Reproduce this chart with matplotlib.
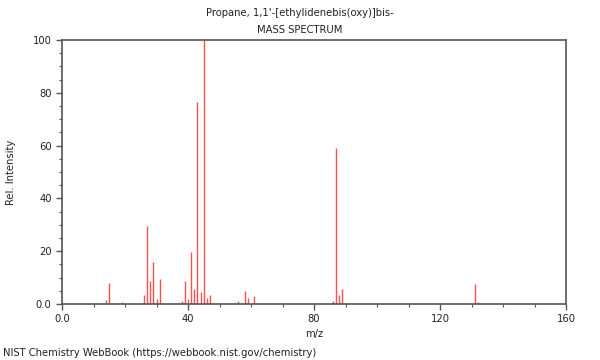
import matplotlib
matplotlib.use('Agg')
import matplotlib.pyplot as plt
from matplotlib.ticker import MultipleLocator, FixedLocator

# ── 데이터 (m/z, 상대강도) ─────────────────────────────
mz = [14, 15, 19, 26, 27, 28, 29, 30, 31, 37, 38, 39, 40, 41, 42, 43, 44, 45,
      46, 47, 55, 56, 58, 59, 61, 71, 86, 87, 88, 89, 101, 103, 117, 131, 132]
intensity = [1.5, 8.0, 0.8, 3.4, 29.5, 8.7, 16.0, 1.9, 9.3, 0.4, 1.0, 8.7, 2.0,
             19.7, 5.6, 76.7, 4.7, 100.0, 2.3, 3.3, 0.4, 1.1, 5.0, 2.3, 3.0,
             0.5, 1.0, 59.0, 3.4, 5.6, 0.3, 0.3, 0.5, 7.6, 0.8]

x_ticks = [0, 40, 80, 120, 160]
x_labels = ['0.0', '40', '80', '120', '160']
y_ticks = [0, 20, 40, 60, 80, 100]
y_labels = ['0.0', '20', '40', '60', '80', '100']

AXIS = '#555555'
TEXT = '#222222'
FS = 7.2

fig = plt.figure(figsize=(6, 3.6), dpi=100, facecolor='white')
ax = fig.add_axes([62 / 600, 1 - 304 / 360, 504 / 600, 264 / 360])

ax.vlines(mz, 0, intensity, color='#ff3030', lw=1.0, alpha=0.85)

ax.set_xlim(0, 160)
ax.set_ylim(0, 100)
ax.xaxis.set_major_locator(FixedLocator(x_ticks))
ax.set_xticklabels(x_labels)
ax.yaxis.set_major_locator(FixedLocator(y_ticks))
ax.set_yticklabels(y_labels)
ax.xaxis.set_minor_locator(MultipleLocator(10))
ax.yaxis.set_minor_locator(MultipleLocator(5))
ax.tick_params(which='major', length=4.5, width=1, color=AXIS, labelsize=FS,
               labelcolor=TEXT, direction='out', pad=3)
ax.tick_params(which='minor', length=2.5, width=0.8, color=AXIS, direction='out')
for s in ax.spines.values():
    s.set_color(AXIS)
    s.set_linewidth(1.2)

ax.set_xlabel('m/z', fontsize=FS, color=TEXT, labelpad=3)
ax.set_ylabel('Rel. Intensity', fontsize=FS, color=TEXT, labelpad=12)

fig.text(0.5, 1 - 13 / 360, "Propane, 1,1'-[ethylidenebis(oxy)]bis-",
         ha='center', va='center', fontsize=FS, color=TEXT)
fig.text(0.5, 1 - 30 / 360, 'MASS SPECTRUM',
         ha='center', va='center', fontsize=FS, color=TEXT)
fig.text(3 / 600, 1 - 353 / 360,
         'NIST Chemistry WebBook (https://webbook.nist.gov/chemistry)',
         ha='left', va='center', fontsize=FS, color=TEXT)

fig.savefig('out.png', dpi=100, facecolor='white')
plt.close(fig)
